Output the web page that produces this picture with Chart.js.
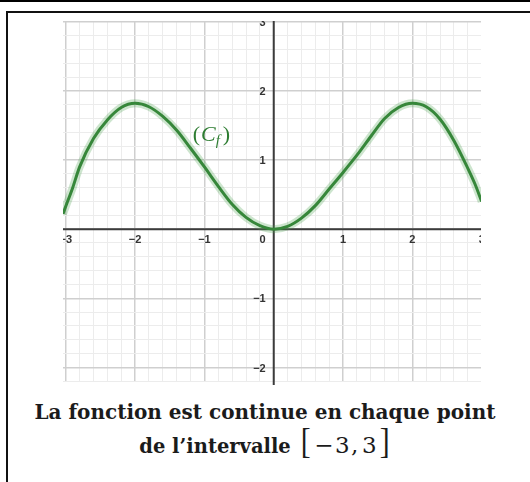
<!DOCTYPE html>
<html>
<head>
<meta charset="utf-8">
<script src="https://cdn.jsdelivr.net/npm/chart.js@4/dist/chart.umd.min.js"></script>
<style>
  html, body { margin: 0; padding: 0; background: #fff; }
  body { width: 530px; height: 482px; position: relative; overflow: hidden; }
  #topline { position: absolute; left: 0; top: 0; width: 530px; height: 2px; background: #000; }
  #frame { position: absolute; left: 6px; top: 11px; width: 540px; height: 500px;
           border-top: 2px solid #111; border-left: 2px solid #111; }
  #wrap { position: absolute; left: 0; top: 0; width: 530px; height: 392px; }
  .caption { position: absolute; left: 0; width: 530px; text-align: center; white-space: nowrap;
             font-family: "DejaVu Serif", serif; font-weight: bold; color: #1b1b1b; }
  #line1 { top: 400px; font-size: 20px; }
  #line2 { top: 424px; font-size: 19.5px; line-height: 34px; }
  .math { font-family: "DejaVu Serif", serif; font-weight: normal; font-size: 23px;
          line-height: 1; letter-spacing: 1.5px; }
  .br { font-family: "Liberation Serif", serif; font-weight: normal; font-size: 35px; line-height: 1;
        display: inline-block; transform: scaleX(0.85); }
  .br.open { margin-left: 2px; margin-right: 3px; }
  .br.close { margin-left: 1px; }
  .comma { margin-right: 2px; }
</style>
</head>
<body>
<div id="topline"></div>
<div id="frame"></div>
<div id="wrap"><canvas id="c" width="530" height="392"></canvas></div>
<div class="caption" id="line1">La fonction est continue en chaque point</div>
<div class="caption" id="line2">de l’intervalle <span class="br open">[</span><span class="math">−3<span class="comma">,</span>3</span><span class="br close">]</span></div>
<script>
// Sampled points of the curve (C_f) on [-3, 3]
const xValues = [-3.04, -3, -2.9, -2.8, -2.6, -2.4, -2.2, -2, -1.8, -1.6, -1.4, -1.2, -1, -0.8, -0.6, -0.4, -0.2,
                 0, 0.2, 0.4, 0.6, 0.8, 1, 1.2, 1.4, 1.6, 1.8, 2, 2.2, 2.4, 2.6, 2.8, 2.9, 3];
const yValues = [0.22, 0.33, 0.60, 0.90, 1.31, 1.58, 1.76, 1.82, 1.77, 1.63, 1.43, 1.17, 0.90, 0.62, 0.36, 0.17, 0.05,
                 0, 0.04, 0.16, 0.34, 0.58, 0.82, 1.07, 1.34, 1.60, 1.76, 1.82, 1.77, 1.59, 1.28, 0.88, 0.66, 0.40];

// Axis tick labels
const xTickValues = [-3, -2, -1, 0, 1, 2, 3];
const xTickLabels = ['−3', '−2', '−1', '0', '1', '2', '3'];
const yTickValues = [-2, -1, 1, 2, 3];
const yTickLabels = ['−2', '−1', '1', '2', '3'];

const curveLabel = { x: -1.17, y: 1.27 };

const points = xValues.map((x, i) => ({ x: x, y: yValues[i] }));

// Grid every 0.2 unit; integer lines darker
function gridTicks(lo, hi) {
  const t = [];
  for (let i = Math.ceil(lo * 5); i <= Math.floor(hi * 5); i++) t.push({ value: i / 5 });
  return t;
}
const isMajor = v => Math.abs(v - Math.round(v)) < 1e-6;

const axesPlugin = {
  id: 'axesPlugin',
  beforeDatasetsDraw(chart) {
    const { ctx, chartArea: a, scales: { x, y } } = chart;
    const x0 = x.getPixelForValue(0), y0 = y.getPixelForValue(0);
    ctx.save();
    ctx.strokeStyle = '#3c3c3c';
    ctx.lineWidth = 2;
    ctx.beginPath();
    ctx.moveTo(a.left, y0); ctx.lineTo(a.right, y0);
    ctx.moveTo(x0, a.top); ctx.lineTo(x0, a.bottom + 3);
    ctx.stroke();
    ctx.restore();
  },
  afterDatasetsDraw(chart) {
    const { ctx, chartArea: a, scales: { x, y } } = chart;
    const x0 = x.getPixelForValue(0), y0 = y.getPixelForValue(0);
    ctx.save();
    ctx.beginPath();
    ctx.rect(a.left, a.top, a.right - a.left, a.bottom - a.top + 5);
    ctx.clip();
    ctx.fillStyle = '#333';
    ctx.font = 'bold 11px "Liberation Sans", Arial, sans-serif';
    ctx.textBaseline = 'middle';
    xTickValues.forEach((v, i) => {
      if (v === 0) {
        ctx.textAlign = 'right';
        ctx.fillText(xTickLabels[i], x0 - 8, y0 + 11);
      } else {
        ctx.textAlign = 'center';
        ctx.fillText(xTickLabels[i], x.getPixelForValue(v), y0 + 11);
      }
    });
    ctx.textAlign = 'right';
    yTickValues.forEach((v, i) => {
      ctx.fillText(yTickLabels[i], x0 - 8, y.getPixelForValue(v) + 1);
    });
    ctx.restore();

    // curve name (C_f)
    ctx.save();
    ctx.fillStyle = '#2e7d32';
    ctx.textBaseline = 'alphabetic';
    ctx.textAlign = 'left';
    let px = x.getPixelForValue(curveLabel.x);
    const py = y.getPixelForValue(curveLabel.y);
    ctx.font = '22px "Liberation Serif", serif';
    ctx.fillText('(', px, py); px += ctx.measureText('(').width + 1;
    ctx.font = 'italic 22px "Liberation Serif", serif';
    ctx.fillText('C', px, py); px += ctx.measureText('C').width;
    ctx.font = 'italic 15px "Liberation Serif", serif';
    ctx.fillText('f', px, py + 4); px += ctx.measureText('f').width + 3;
    ctx.font = '22px "Liberation Serif", serif';
    ctx.fillText(')', px, py);
    ctx.restore();
  }
};

new Chart(document.getElementById('c'), {
  type: 'line',
  data: {
    datasets: [
      { data: points, borderColor: 'rgba(76,160,80,0.28)', borderWidth: 8, pointRadius: 0,
        cubicInterpolationMode: 'monotone', fill: false },
      { data: points, borderColor: '#2f7d32', borderWidth: 3, pointRadius: 0,
        cubicInterpolationMode: 'monotone', fill: false }
    ]
  },
  options: {
    responsive: false,
    animation: false,
    events: [],
    layout: { padding: { left: 63, right: 49, top: 21, bottom: 10 } },
    plugins: { legend: { display: false }, tooltip: { enabled: false } },
    scales: {
      x: {
        type: 'linear', min: -3.04, max: 2.99,
        afterBuildTicks: s => { s.ticks = gridTicks(-3.04, 2.99); },
        ticks: { display: false },
        border: { display: false },
        grid: { drawTicks: false,
                color: c => isMajor(c.tick.value) ? '#cfcfcf' : '#ececec',
                lineWidth: c => isMajor(c.tick.value) ? 1.5 : 1 }
      },
      y: {
        type: 'linear', min: -2.21, max: 3.01,
        afterBuildTicks: s => { s.ticks = gridTicks(-2.21, 3.01); },
        ticks: { display: false },
        border: { display: false },
        grid: { drawTicks: false,
                color: c => isMajor(c.tick.value) ? '#cfcfcf' : '#ececec',
                lineWidth: c => isMajor(c.tick.value) ? 1.5 : 1 }
      }
    }
  },
  plugins: [axesPlugin]
});
</script>
</body>
</html>
